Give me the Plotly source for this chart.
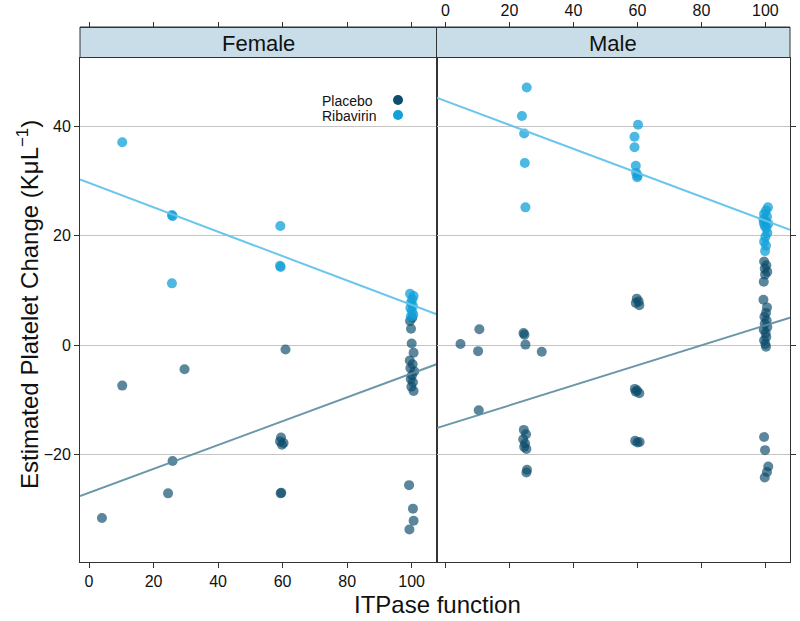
import plotly.graph_objects as go

# ---------------- data ----------------
female_rib_x = [10.3, 25.7, 25.9, 25.7, 59.3, 59.2, 59.4,
                99.5, 100.6, 100.2, 99.8, 100.4, 99.6, 100.1, 100.5, 99.7]
female_rib_y = [37.1, 23.8, 23.6, 11.3, 21.8, 14.5, 14.3,
                9.4, 9.0, 8.4, 7.8, 7.2, 6.8, 6.2, 5.6, 5.2]

female_pla_x = [4.0, 10.3, 24.5, 25.9, 29.6, 60.9, 59.5, 59.2, 60.3, 59.8, 59.4, 59.6,
                100.2, 99.5, 99.8, 100.0, 100.6, 99.4, 100.3, 99.6, 100.8, 100.1, 99.7,
                100.4, 99.9, 100.6, 99.2, 100.4, 100.6, 99.3]
female_pla_y = [-31.6, -7.4, -27.1, -21.2, -4.4, -0.8, -16.9, -17.6, -17.9, -18.2, -27.1, -27.0,
                5.0, 4.4, 3.0, 0.3, -1.4, -2.8, -3.5, -4.2, -4.8, -5.5, -6.2,
                -6.8, -7.6, -8.4, -25.6, -29.9, -32.1, -33.7]

male_rib_x = [25.4, 23.9, 24.6, 24.8, 25.0, 60.2, 59.1, 59.1, 59.5, 59.6, 60.1, 59.9,
              100.8, 100.2, 99.6, 100.5, 99.4, 100.1, 100.9, 99.8, 100.3, 99.5,
              100.6, 100.0, 99.6, 100.2, 99.9]
male_rib_y = [47.1, 41.9, 38.7, 33.3, 25.2, 40.3, 38.1, 36.2, 32.8, 31.5, 31.0, 30.7,
              25.2, 24.6, 24.0, 23.5, 23.0, 22.6, 22.2, 21.8, 21.4, 22.4,
              20.5, 19.8, 18.9, 18.2, 17.2]

male_pla_x = [4.7, 10.6, 10.2, 10.4, 24.4, 24.7, 25.0, 30.1, 24.5, 25.2, 24.3, 24.9, 25.3,
              24.6, 25.5, 25.3,
              59.8, 60.4, 59.5, 60.6, 59.2, 59.9, 60.6, 59.5, 59.3, 60.0, 60.7,
              99.6, 100.3, 99.8, 100.6, 99.9, 99.5, 99.4, 100.5, 100.2, 99.7, 100.4,
              99.8, 100.6, 99.5, 100.1, 100.3, 99.6, 100.0, 100.2, 99.6, 99.9, 100.9,
              100.5, 99.8]
male_pla_y = [0.2, 2.9, -1.1, -11.9, 2.2, 1.9, 0.1, -1.2, -15.5, -16.3, -17.2, -18.0, -19.0,
              -18.6, -22.8, -23.3,
              8.5, 8.0, 7.7, 7.3, -8.0, -8.3, -8.8, -8.5, -17.5, -17.8, -17.7,
              15.3, 14.6, 14.0, 13.4, 12.9, 11.6, 8.3, 6.9, 5.9, 5.2, 4.5,
              3.9, 3.3, 2.8, 2.2, 1.5, 0.9, 0.2, -0.3, -16.8, -19.2, -22.2,
              -23.2, -24.2]

# fitted lines (intercept, slope)
fit_female_rib = (29.66, -0.223)
fit_female_pla = (-26.98, 0.218)
fit_male_rib = (44.66, -0.219)
fit_male_pla = (-14.67, 0.183)

x_ticks = [0, 20, 40, 60, 80, 100]
y_ticks = [-20, 0, 20, 40]
panels = ["Female", "Male"]
groups = ["Placebo", "Ribavirin"]

# ---------------- style ----------------
XR = [-2.8, 107.7]
YR = [-39.6, 52.6]
W, H = 800, 621
FONT = "Liberation Sans, Arial, sans-serif"
PLA = "rgba(14,77,107,0.68)"
RIB = "rgba(18,160,216,0.75)"
PLA_LINE = "rgba(90,140,158,0.9)"
RIB_LINE = "rgba(100,195,235,0.95)"
PLA_SOLID = "#0e4d6b"
RIB_SOLID = "#12a0d8"

def px(x):
    return x / W

def py(y):
    return 1 - y / H

fig = go.Figure()

def add_panel(xa, ya, px_, py_, rx, ry, fit_p, fit_r):
    fig.add_trace(go.Scatter(x=px_, y=py_, mode="markers", xaxis=xa, yaxis=ya,
                             marker=dict(size=10, color=PLA, line=dict(width=0)),
                             showlegend=False, hoverinfo="skip"))
    fig.add_trace(go.Scatter(x=rx, y=ry, mode="markers", xaxis=xa, yaxis=ya,
                             marker=dict(size=10, color=RIB, line=dict(width=0)),
                             showlegend=False, hoverinfo="skip"))
    for (b0, b1), col in [(fit_p, PLA_LINE), (fit_r, RIB_LINE)]:
        fig.add_trace(go.Scatter(x=XR, y=[b0 + b1 * XR[0], b0 + b1 * XR[1]], mode="lines",
                                 xaxis=xa, yaxis=ya, line=dict(color=col, width=2),
                                 showlegend=False, hoverinfo="skip"))

add_panel("x", "y", female_pla_x, female_pla_y, female_rib_x, female_rib_y,
          fit_female_pla, fit_female_rib)
add_panel("x2", "y2", male_pla_x, male_pla_y, male_rib_x, male_rib_y,
          fit_male_pla, fit_male_rib)

L, MID, R = 80, 436.5, 790
TOP, BOT = 57.5, 561.7
STRIP_TOP = 27

axis_common = dict(range=XR, tickvals=x_ticks, ticks="outside", ticklen=5,
                   tickcolor="#333", showline=True, linecolor="#333", linewidth=1,
                   showgrid=False, zeroline=False, automargin=False,
                   tickfont=dict(family=FONT, size=16, color="#111"))

fig.update_layout(
    width=W, height=H, margin=dict(l=0, r=0, t=0, b=0),
    paper_bgcolor="white", plot_bgcolor="white",
    xaxis=dict(domain=[px(L), px(MID)], anchor="y", mirror=True, **axis_common),
    xaxis2=dict(domain=[px(MID), px(R)], anchor="y2", mirror=True,
                showticklabels=False, **axis_common),
    xaxis3=dict(overlaying="x2", anchor="free", position=py(STRIP_TOP), side="top",
                **axis_common),
    xaxis4=dict(overlaying="x", anchor="free", position=py(STRIP_TOP), side="top",
                showticklabels=False, **axis_common),
    yaxis=dict(domain=[py(BOT), py(TOP)], range=YR, tickvals=y_ticks, anchor="x",
               ticks="outside", ticklen=5, tickcolor="#333", showline=True,
               linecolor="#333", mirror=True, showgrid=True, gridcolor="#c4c4c4",
               gridwidth=1, zeroline=False, automargin=False,
               tickfont=dict(family=FONT, size=16, color="#111")),
    yaxis2=dict(domain=[py(BOT), py(TOP)], range=YR, tickvals=y_ticks, anchor="x2",
                side="right", ticks="outside", ticklen=5, tickcolor="#333",
                showline=True, linecolor="#333", mirror=True, showgrid=True,
                gridcolor="#c4c4c4", gridwidth=1, zeroline=False, automargin=False,
                showticklabels=False),
)
# dummy traces so the top axes render
fig.add_trace(go.Scatter(x=[None], y=[None], xaxis="x3", yaxis="y2", showlegend=False))
fig.add_trace(go.Scatter(x=[None], y=[None], xaxis="x4", yaxis="y", showlegend=False))

def note(x, y, text, size, **kw):
    fig.add_annotation(xref="paper", yref="paper", x=px(x), y=py(y), text=text,
                       showarrow=False, yanchor="middle", borderpad=0,
                       font=dict(family=FONT, size=size, color="#111"), **kw)

# strips
for (x0, x1), name in zip([(L, MID), (MID, R)], panels):
    fig.add_shape(type="rect", xref="paper", yref="paper",
                  x0=px(x0), x1=px(x1), y0=py(TOP), y1=py(STRIP_TOP),
                  fillcolor="#c9dde9", line=dict(color="#333", width=1), layer="below")
    note((x0 + x1) / 2, (TOP + STRIP_TOP) / 2 + 1, name, 22, xanchor="center")

# legend
for i, (g, col) in enumerate(zip(groups, [PLA_SOLID, RIB_SOLID])):
    yy = 101 + i * 15
    note(321, yy, g, 14, xanchor="left")
    fig.add_shape(type="circle", xref="paper", yref="paper",
                  x0=px(393), x1=px(403), y0=py(yy + 4), y1=py(yy - 6),
                  fillcolor=col, line=dict(width=0))

# axis titles
note(437, 604, "ITPase function", 24, xanchor="center")
note(28, 305, "Estimated Platelet Change (KμL<sup>−1</sup>)", 24,
     xanchor="center", textangle=-90)

fig.write_html("out.html", config={"displayModeBar": False},
               post_script="document.body.style.margin='0';document.body.style.overflow='hidden';")
